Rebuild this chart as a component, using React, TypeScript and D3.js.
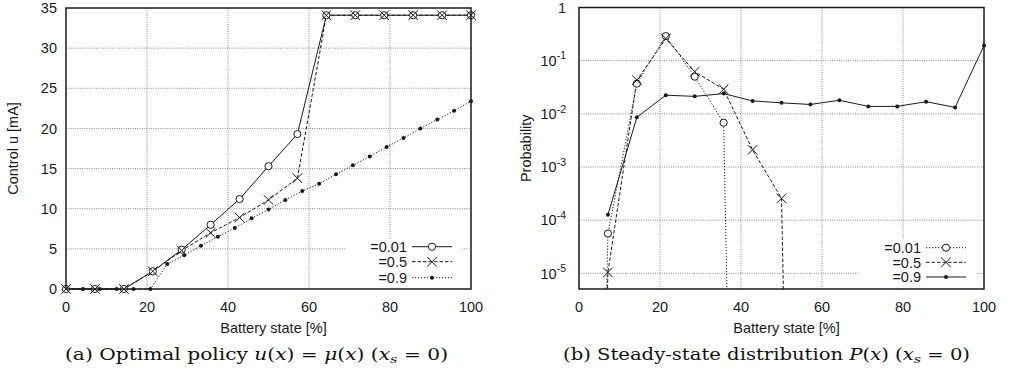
import React from 'react';
import * as d3 from 'd3';

// ---------- data ----------
const policyX = [0, 7.14, 14.29, 21.43, 28.57, 35.71, 42.86, 50, 57.14, 64.29, 71.43, 78.57, 85.71, 92.86, 100];
const policy001 = [0, 0, 0, 2.2, 4.9, 8.0, 11.2, 15.3, 19.3, 34.1, 34.1, 34.1, 34.1, 34.1, 34.1];
const policy05 = [0, 0, 0, 2.2, 4.8, 7.0, 8.9, 11.1, 13.8, 34.1, 34.1, 34.1, 34.1, 34.1, 34.1];
const policy09X = [0, 4.17, 8.33, 12.5, 16.67, 20.83, 25, 29.17, 33.33, 37.5, 41.67, 45.83, 50, 54.17, 58.33, 62.5, 66.67, 70.83, 75, 79.17, 83.33, 87.5, 91.67, 95.83, 100];
const policy09 = [0, 0, 0, 0, 0, 0, 3.1, 4.2, 5.4, 6.5, 7.6, 8.8, 9.9, 11.1, 12.2, 13.1, 14.3, 15.4, 16.5, 17.7, 18.8, 20.0, 21.1, 22.2, 23.4];

const probX = [0, 7.14, 14.29, 21.43, 28.57, 35.71, 42.86, 50, 57.14, 64.29, 71.43, 78.57, 85.71, 92.86, 100];
// 1e-30 stands for an (almost) zero probability, off the bottom of the log axis
const prob001: (number | null)[] = [1e-30, 5.6e-5, 0.037, 0.29, 0.05, 0.0068, 1e-30, null, null, null, null, null, null, null, null];
const prob05: (number | null)[] = [1e-30, 1.04e-5, 0.043, 0.26, 0.062, 0.029, 0.0021, 2.57e-4, 1e-30, null, null, null, null, null, null];
const prob09: (number | null)[] = [null, 1.26e-4, 0.0086, 0.0224, 0.0213, 0.024, 0.0175, 0.0161, 0.015, 0.018, 0.0138, 0.0138, 0.0169, 0.0132, 0.193];

const xTicks = [0, 20, 40, 60, 80, 100];
const policyTicks = [0, 5, 10, 15, 20, 25, 30, 35];
const probTicks = [1, 1e-1, 1e-2, 1e-3, 1e-4, 1e-5];
const probTickExp = ['', '-1', '-2', '-3', '-4', '-5'];
const legendLabels = ['=0.01', '=0.5', '=0.9'];

const SANS = '"Liberation Sans", Arial, Helvetica, sans-serif';
const SERIF = '"DejaVu Serif", "Liberation Serif", serif';
const INK = '#1a1a1a';
const FS = 14.5;

type Kind = 'circle' | 'x' | 'dot';

function Marker({ kind, x, y }: { kind: Kind; x: number; y: number }) {
  if (kind === 'circle') return <circle cx={x} cy={y} r={3.6} fill="#fff" stroke={INK} strokeWidth={1} />;
  if (kind === 'dot') return <circle cx={x} cy={y} r={2} fill={INK} />;
  const s = 4.8;
  return (
    <g stroke={INK} strokeWidth={1}>
      <line x1={x - s} y1={y - s} x2={x + s} y2={y + s} />
      <line x1={x - s} y1={y + s} x2={x + s} y2={y - s} />
    </g>
  );
}

const DASH: Record<string, string | undefined> = { solid: undefined, dashed: '3.5,2', dotted: '1.2,1.8' };

function Legend({ textX, rows, styles, kinds, bg }: { textX: number; rows: number[]; styles: string[]; kinds: Kind[]; bg: [number, number, number, number] }) {
  return (
    <g>
      <rect x={bg[0]} y={bg[1]} width={bg[2] - bg[0]} height={bg[3] - bg[1]} fill="#fff" />
      {legendLabels.map((lab, i) => (
        <g key={lab}>
          <text x={textX} y={rows[i] + 5.2} textAnchor="end" fontFamily={SANS} fontSize={FS} fill={INK}>{lab}</text>
          <line x1={textX + 5} x2={textX + 45} y1={rows[i]} y2={rows[i]} stroke={INK} strokeWidth={1} strokeDasharray={DASH[styles[i]]} />
          <Marker kind={kinds[i]} x={textX + 25} y={rows[i]} />
        </g>
      ))}
    </g>
  );
}

function PolicyPanel() {
  const L = 66, R = 471, T = 8, B = 289;
  const x = d3.scaleLinear().domain([0, 100]).range([L, R]);
  const y = d3.scaleLinear().domain([0, 35]).range([B, T]);
  const line = d3.line<[number, number]>().x(d => x(d[0])).y(d => y(d[1]));
  const s001 = policyX.map((v, i) => [v, policy001[i]] as [number, number]);
  const s05 = policyX.map((v, i) => [v, policy05[i]] as [number, number]);
  const s09 = policy09X.map((v, i) => [v, policy09[i]] as [number, number]);
  return (
    <g>
      <g stroke="#8a8a8a" strokeWidth={1} strokeDasharray="1,1.3">
        {xTicks.slice(1, -1).map(t => <line key={'gx' + t} x1={x(t)} x2={x(t)} y1={T} y2={B} />)}
        {policyTicks.slice(1, -1).map(t => <line key={'gy' + t} x1={L} x2={R} y1={y(t)} y2={y(t)} />)}
      </g>
      <Legend textX={407} rows={[246.7, 261.7, 277.7]} styles={['solid', 'dashed', 'dotted']} kinds={['circle', 'x', 'dot']} bg={[346, 239, 462, 288]} />
      <g fill="none" stroke={INK} strokeWidth={1}>
        <path d={line(s09) || ''} strokeDasharray={DASH.dotted} />
        <path d={line(s05) || ''} strokeDasharray={DASH.dashed} />
        <path d={line(s001) || ''} />
      </g>
      {s09.map((d, i) => <Marker key={'d' + i} kind="dot" x={x(d[0])} y={y(d[1])} />)}
      {s001.map((d, i) => <Marker key={'c' + i} kind="circle" x={x(d[0])} y={y(d[1])} />)}
      {s05.map((d, i) => <Marker key={'x' + i} kind="x" x={x(d[0])} y={y(d[1])} />)}
      <rect x={L} y={T} width={R - L} height={B - T} fill="none" stroke={INK} strokeWidth={1.5} />
      {policyTicks.map(t => (
        <text key={'ty' + t} x={57} y={y(t) + 5.2} textAnchor="end" fontFamily={SANS} fontSize={FS} fill={INK}>{t}</text>
      ))}
      {xTicks.map(t => (
        <text key={'tx' + t} x={x(t)} y={312} textAnchor="middle" fontFamily={SANS} fontSize={FS} fill={INK}>{t}</text>
      ))}
      <text x={(L + R) / 2 + 5} y={333} textAnchor="middle" fontFamily={SANS} fontSize={FS} fill={INK}>Battery state [%]</text>
      <text transform={`translate(18,${(T + B) / 2}) rotate(-90)`} textAnchor="middle" fontFamily={SANS} fontSize={FS} fill={INK}>Control u [mA]</text>
    </g>
  );
}

function ProbPanel() {
  const L = 579, R = 984, T = 7.5, B = 289;
  const x = d3.scaleLinear().domain([0, 100]).range([L, R]);
  const y = d3.scaleLog().domain([5.07e-6, 1]).range([B, T]);
  const mk = (arr: (number | null)[]) => probX.map((v, i) => [v, arr[i]] as [number, number | null]);
  const line = d3.line<[number, number | null]>().defined(d => d[1] !== null).x(d => x(d[0])).y(d => y(d[1] as number));
  const s001 = mk(prob001), s05 = mk(prob05), s09 = mk(prob09);
  const visible = (d: [number, number | null]) => d[1] !== null && (d[1] as number) >= 5.07e-6;
  return (
    <g>
      <defs>
        <clipPath id="probClip"><rect x={L} y={T} width={R - L} height={B - T} /></clipPath>
      </defs>
      <g stroke="#8a8a8a" strokeWidth={1} strokeDasharray="1,1.3">
        {xTicks.slice(1, -1).map(t => <line key={'gx' + t} x1={x(t)} x2={x(t)} y1={T} y2={B} />)}
        {probTicks.slice(1).map(t => <line key={'gy' + t} x1={L} x2={R} y1={y(t)} y2={y(t)} />)}
      </g>
      <Legend textX={921} rows={[247.7, 262.3, 277]} styles={['dotted', 'dashed', 'solid']} kinds={['circle', 'x', 'dot']} bg={[859, 239, 976, 288]} />
      <g fill="none" stroke={INK} strokeWidth={1} clipPath="url(#probClip)">
        <path d={line(s001) || ''} strokeDasharray={DASH.dotted} />
        <path d={line(s05) || ''} strokeDasharray={DASH.dashed} />
        <path d={line(s09) || ''} />
      </g>
      {s09.filter(visible).map((d, i) => <Marker key={'d' + i} kind="dot" x={x(d[0])} y={y(d[1] as number)} />)}
      {s001.filter(visible).map((d, i) => <Marker key={'c' + i} kind="circle" x={x(d[0])} y={y(d[1] as number)} />)}
      {s05.filter(visible).map((d, i) => <Marker key={'x' + i} kind="x" x={x(d[0])} y={y(d[1] as number)} />)}
      <rect x={L} y={T} width={R - L} height={B - T} fill="none" stroke={INK} strokeWidth={1.5} />
      {probTicks.map((t, i) => (
        <text key={'ty' + i} x={566} y={y(t) + 5.2} textAnchor="end" fontFamily={SANS} fontSize={FS} fill={INK}>
          {i === 0 ? '1' : '10'}
          {i > 0 && <tspan dy={-6.5} fontSize={10.5}>{probTickExp[i]}</tspan>}
        </text>
      ))}
      {xTicks.map(t => (
        <text key={'tx' + t} x={x(t)} y={312} textAnchor="middle" fontFamily={SANS} fontSize={FS} fill={INK}>{t}</text>
      ))}
      <text x={(L + R) / 2 + 5} y={333} textAnchor="middle" fontFamily={SANS} fontSize={FS} fill={INK}>Battery state [%]</text>
      <text transform={`translate(531,${(T + B) / 2}) rotate(-90)`} textAnchor="middle" fontFamily={SANS} fontSize={FS} fill={INK}>Probability</text>
    </g>
  );
}

export default function App() {
  return (
    <svg width={1014} height={379} viewBox="0 0 1014 379" style={{ position: 'absolute', left: 0, top: 0, background: '#fff' }}>
      <rect x={0} y={0} width={1014} height={379} fill="#fff" />
      <PolicyPanel />
      <ProbPanel />
      <text x={65} y={360} fontFamily={SERIF} fontSize={16} fill="#111" textLength={383} lengthAdjust="spacingAndGlyphs">
        (a) Optimal policy <tspan fontStyle="italic">u</tspan>(<tspan fontStyle="italic">x</tspan>) = <tspan fontStyle="italic">μ</tspan>(<tspan fontStyle="italic">x</tspan>) (<tspan fontStyle="italic">x</tspan><tspan fontStyle="italic" fontSize={11.5} dy={3}>s</tspan><tspan dy={-3}> = 0)</tspan>
      </text>
      <text x={563} y={360} fontFamily={SERIF} fontSize={16} fill="#111" textLength={407} lengthAdjust="spacingAndGlyphs">
        (b) Steady-state distribution <tspan fontStyle="italic">P</tspan>(<tspan fontStyle="italic">x</tspan>) (<tspan fontStyle="italic">x</tspan><tspan fontStyle="italic" fontSize={11.5} dy={3}>s</tspan><tspan dy={-3}> = 0)</tspan>
      </text>
    </svg>
  );
}
